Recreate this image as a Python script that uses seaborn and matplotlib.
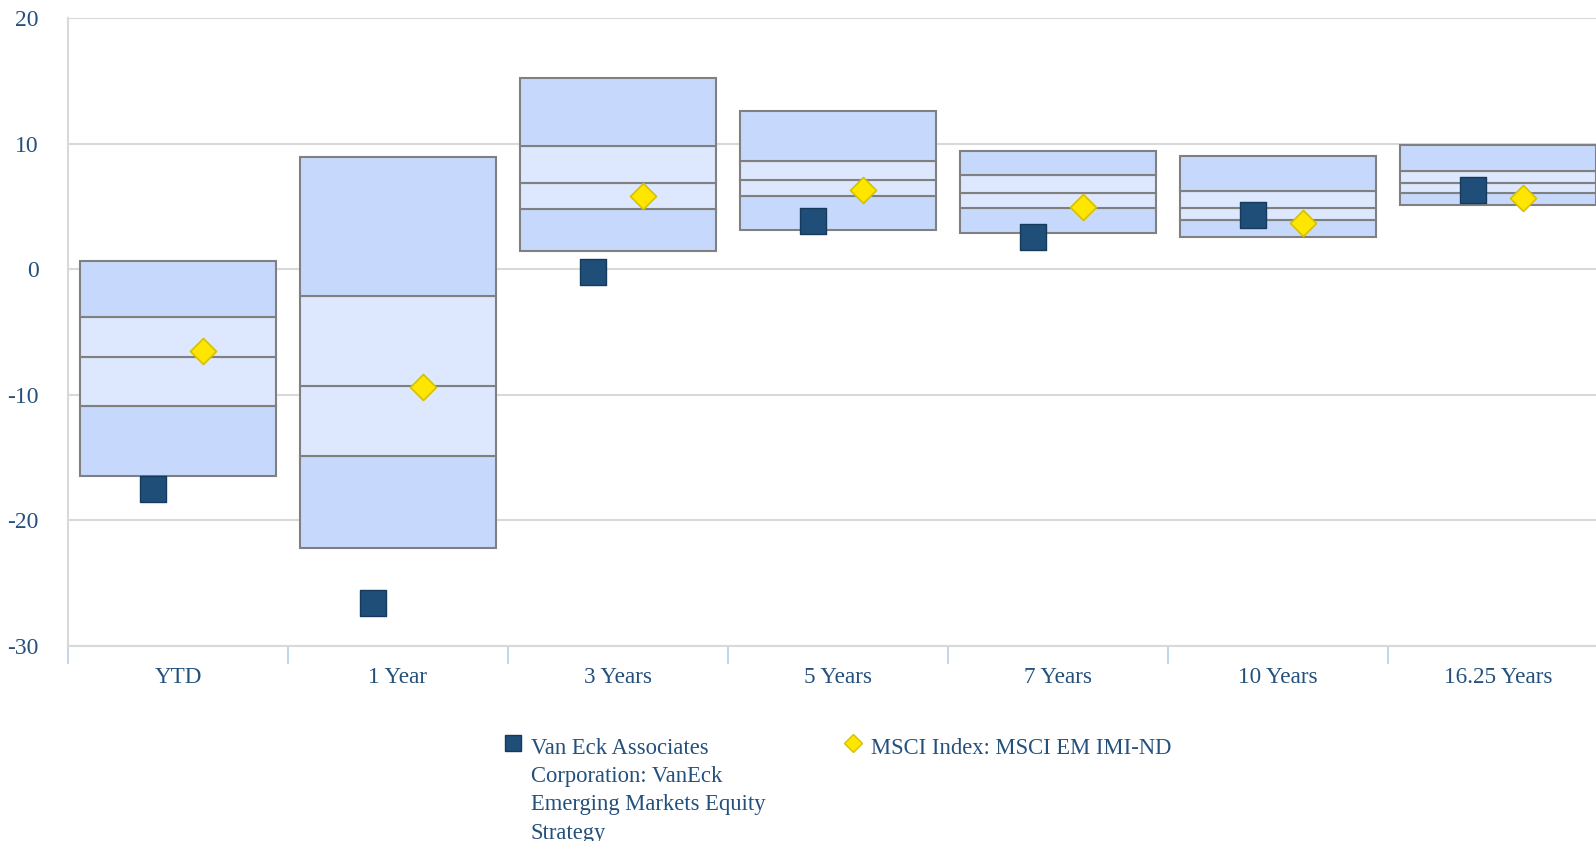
import matplotlib as mpl
import matplotlib.pyplot as plt
import seaborn as sns
import pandas as pd
import numpy as np
from matplotlib.lines import Line2D

# Percentile ranges (5th/25th/50th/75th/95th) and the two series
categories = ["YTD", "1 Year", "3 Years", "5 Years", "7 Years", "10 Years", "16.25 Years"]
p95 = [0.65, 8.9, 15.2, 12.6, 9.4, 9.0, 9.9]
p75 = [-3.8, -2.1, 9.8, 8.6, 7.5, 6.2, 7.8]
p50 = [-7.0, -9.3, 6.9, 7.1, 6.1, 4.9, 6.9]
p25 = [-10.9, -14.9, 4.8, 5.8, 4.9, 3.9, 6.1]
p5 = [-16.5, -22.2, 1.45, 3.1, 2.9, 2.6, 5.15]
fund = [-17.5, -26.6, -0.2, 3.85, 2.6, 4.35, 6.3]
index = [-6.55, -9.35, 5.85, 6.3, 4.95, 3.65, 5.7]

fund_label = "Van Eck Associates\nCorporation: VanEck\nEmerging Markets Equity\nStrategy"
index_label = "MSCI Index: MSCI EM IMI-ND"

text_color = "#24507c"
dark_band = "#c6d9fd"
light_band = "#dde7fd"
edge_grey = "#808080"

sns.set_style("white")
plt.rcParams["font.family"] = ["Liberation Serif", "DejaVu Serif"]
plt.rcParams["axes.unicode_minus"] = False

fig = plt.figure(figsize=(15.96, 8.41), dpi=100)
# axes run past the right edge on purpose, the original is cropped there
ax = fig.add_axes([68 / 1596, 1 - 646 / 841, 1540 / 1596, 628 / 841])

bands = [(p5, p25, dark_band), (p25, p50, light_band),
         (p50, p75, light_band), (p75, p95, dark_band)]
for lo, hi, col in bands:
    df = pd.DataFrame({"cat": categories, "h": np.array(hi) - np.array(lo)})
    sns.barplot(data=df, x="cat", y="h", order=categories, bottom=lo, width=0.89,
                color=col, saturation=1, edgecolor=edge_grey, linewidth=1.5,
                errorbar=None, ax=ax, zorder=2)

xpos = np.arange(len(categories))
sns.scatterplot(x=xpos - 0.114, y=fund, marker="s", s=330, color="#1f4e79",
                edgecolor="#163a5c", linewidth=1, ax=ax, zorder=4)
sns.scatterplot(x=xpos + 0.114, y=index, marker="D", s=175, color="#ffe600",
                edgecolor="#d6c000", linewidth=1.2, ax=ax, zorder=5)

ax.set_xlim(-0.5, len(categories) - 0.5)
ax.set_ylim(-30, 20)
ax.set_yticks([-30, -20, -10, 0, 10, 20])
ax.set_xticks(xpos)
ax.set_xticklabels(categories)
ax.set_xticks(np.arange(-0.5, len(categories), 1), minor=True)
ax.set_xlabel("")
ax.set_ylabel("")

ax.yaxis.grid(True, color="#d9d9d9", linewidth=1.5)
ax.set_axisbelow(True)
for side in ["top", "right"]:
    ax.spines[side].set_visible(False)
for side in ["left", "bottom"]:
    ax.spines[side].set_color("#d9d9d9")
    ax.spines[side].set_linewidth(1.5)

ax.tick_params(axis="y", length=0, pad=21, labelsize=17, labelcolor=text_color)
ax.tick_params(axis="x", which="major", bottom=True, length=0, pad=15,
               labelsize=16.7, labelcolor=text_color)
ax.tick_params(axis="x", which="minor", bottom=True, length=13, width=1.2, color="#b9cde5")

# legend, laid out by hand to keep the wrapped label next to its marker
fig.add_artist(Line2D([513 / 1596], [1 - 743 / 841], marker="s", markersize=12,
                      color="#1f4e79", markeredgecolor="#163a5c", transform=fig.transFigure))
fig.text(531 / 1596, 1 - 738 / 841, fund_label, fontsize=16.3, color=text_color,
         va="top", ha="left", linespacing=1.45)
fig.add_artist(Line2D([853 / 1596], [1 - 743 / 841], marker="D", markersize=9,
                      color="#ffe600", markeredgecolor="#d6c000", transform=fig.transFigure))
fig.text(871 / 1596, 1 - 738 / 841, index_label, fontsize=16.3, color=text_color,
         va="top", ha="left")

plt.savefig("out.png", dpi=100)
